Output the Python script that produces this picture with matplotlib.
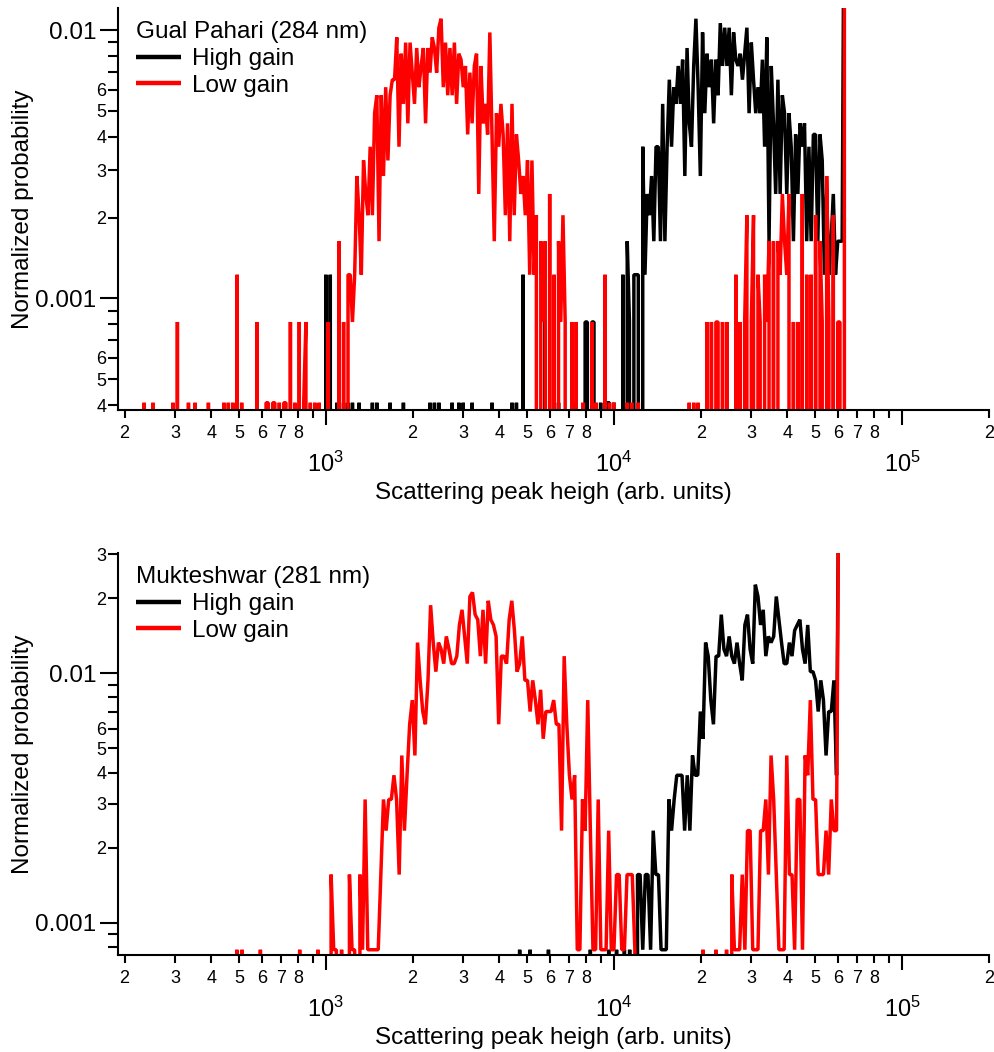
import numpy as np
import matplotlib
matplotlib.use("Agg")
import matplotlib.pyplot as plt
from matplotlib.ticker import LogLocator, FuncFormatter

plt.rcParams['font.family'] = ['Liberation Sans', 'DejaVu Sans']
plt.rcParams['mathtext.fontset'] = 'custom'
plt.rcParams['mathtext.rm'] = 'Liberation Sans'

# log-spaced histogram bins, first bin centre at 10**2.3
first_bin_log = 2.30
top_bins_per_decade = 130
bottom_bins_per_decade = 110

# counts -> normalized probability
top_total = 2450
bottom_total = 1282

# Gual Pahari (284 nm), counts per bin
top_high = [0] * 90 + [
    0, 3, 0, 3, 0, 0, 1, 0, 0, 1,
    0, 1, 0, 1, 0, 0, 1, 0, 0, 0,
    0, 0, 1, 0, 1, 0, 0, 0, 0, 0,
    1, 0, 0, 0, 0, 0, 1, 0, 0, 0,
    0, 0, 0, 0, 0, 0, 0, 0, 1, 0,
    1, 0, 1, 0, 0, 0, 0, 0, 1, 0,
    0, 1, 0, 1, 0, 0, 0, 1, 0, 0,
    0, 0, 0, 0, 0, 0, 1, 0, 0, 0,
    0, 0, 0, 0, 0, 1, 0, 1, 0, 0,
    3, 0, 0, 0, 0, 0, 0, 0, 0, 0,
    2, 0, 0, 0, 0, 0, 1, 0, 0, 0,
    0, 0, 0, 1, 0, 0, 0, 0, 2, 2,
    0, 2, 2, 0, 0, 1, 0, 0, 1, 1,
    0, 1, 0, 0, 0, 3, 0, 4, 2, 0,
    3, 3, 3, 0, 9, 3, 6, 5, 7, 4,
    9, 9, 4, 13, 4, 9, 16, 9, 15, 13,
    18, 13, 19, 7, 21, 11, 9, 18, 27, 15,
    7, 24, 12, 20, 15, 19, 11, 19, 14, 26,
    18, 25, 18, 25, 14, 24, 19, 18, 20, 16,
    20, 25, 12, 22, 16, 12, 15, 12, 19, 9,
    23, 4, 18, 11, 6, 16, 6, 14, 12, 6,
    12, 9, 4, 10, 6, 11, 9, 11, 4, 9,
    4, 10, 10, 4, 10, 8, 3, 6, 3, 4,
    6, 3, 4, 4, 4, 150]

top_low = [
    0, 0, 0, 0, 0, 0, 0, 0, 0, 1,
    0, 0, 0, 1, 0, 0, 0, 0, 0, 0,
    0, 0, 1, 0, 2, 0, 0, 0, 0, 1,
    0, 0, 1, 0, 0, 0, 0, 0, 1, 0,
    0, 0, 0, 0, 0, 1, 0, 1, 0, 1,
    0, 3, 0, 1, 0, 0, 0, 0, 0, 0,
    2, 0, 0, 0, 1, 1, 0, 1, 1, 0,
    1, 0, 1, 1, 0, 2, 0, 1, 0, 2,
    0, 1, 2, 0, 1, 0, 1, 0, 1, 0,
    0, 0, 2, 0, 0, 0, 0, 4, 0, 2,
    0, 3, 3, 2, 3, 7, 5, 3, 8, 6,
    5, 9, 5, 12, 14, 4, 14, 7, 15, 8,
    14, 16, 16, 23, 9, 20, 13, 22, 11, 22,
    17, 13, 21, 15, 18, 21, 11, 21, 17, 23,
    21, 17, 25, 27, 15, 22, 14, 21, 14, 22,
    13, 20, 19, 15, 18, 10, 17, 11, 18, 20,
    6, 18, 11, 13, 10, 24, 10, 4, 12, 9,
    13, 10, 5, 11, 4, 13, 5, 10, 8, 6,
    7, 5, 8, 3, 8, 3, 5, 0, 4, 2,
    4, 0, 6, 0, 3, 0, 4, 2, 5, 2,
    0, 0, 2, 0, 2, 0, 0, 1, 0, 0,
    0, 2, 0, 1, 0, 0, 0, 3, 0, 1,
    0, 1, 0, 0, 0, 0, 0, 1, 0, 1,
    0, 0, 1, 0, 0, 0, 0, 0, 0, 0,
    0, 0, 0, 0, 0, 0, 0, 0, 0, 0,
    0, 0, 0, 0, 0, 1, 0, 1, 0, 1,
    0, 0, 0, 2, 0, 2, 0, 2, 2, 0,
    2, 0, 2, 0, 0, 0, 3, 0, 2, 0,
    2, 5, 0, 2, 5, 0, 3, 2, 0, 3,
    2, 4, 0, 4, 0, 4, 3, 6, 4, 3,
    6, 0, 2, 0, 2, 0, 6, 0, 3, 0,
    3, 0, 5, 0, 4, 2, 0, 7, 2, 0,
    5, 0, 2, 2, 0, 150]

# Mukteshwar (281 nm), counts per bin
bottom_high = [0] * 150 + [
    0, 1, 0, 0, 0, 1, 0, 0, 0, 0,
    0, 0, 1, 0, 0, 0, 0, 0, 0, 0,
    0, 0, 0, 0, 0, 0, 0, 0, 1, 0,
    0, 0, 0, 0, 0, 1, 0, 0, 1, 0,
    0, 1, 0, 1, 0, 0, 2, 2, 1, 2,
    2, 1, 3, 2, 2, 1, 1, 1, 4, 3,
    4, 5, 5, 5, 3, 5, 3, 6, 5, 5,
    9, 7, 17, 15, 10, 8, 15, 15, 22, 16,
    15, 18, 15, 14, 17, 14, 12, 20, 22, 16,
    14, 29, 26, 20, 23, 15, 18, 17, 18, 26,
    21, 17, 14, 14, 17, 15, 19, 20, 21, 16,
    14, 20, 13, 13, 12, 9, 12, 10, 6, 9,
    9, 12, 5, 150]

bottom_low = [0] * 40 + [
    0, 0, 0, 1, 0, 1, 0, 0, 0, 0,
    0, 0, 1, 0, 0, 0, 0, 0, 0, 0,
    0, 0, 0, 0, 0, 0, 0, 1, 0, 0,
    0, 0, 0, 0, 1, 0, 0, 0, 0, 2,
    1, 1, 0, 1, 0, 0, 2, 1, 1, 0,
    2, 1, 4, 1, 1, 1, 1, 1, 2, 4,
    3, 4, 4, 5, 4, 2, 6, 3, 5, 8,
    10, 6, 17, 12, 9, 8, 12, 24, 17, 13,
    17, 16, 14, 18, 16, 14, 14, 15, 20, 23,
    18, 14, 26, 27, 22, 21, 15, 23, 14, 25,
    21, 20, 18, 8, 15, 15, 14, 21, 25, 19,
    13, 14, 18, 12, 12, 9, 12, 10, 8, 11,
    7, 9, 9, 9, 10, 8, 8, 3, 15, 8,
    5, 4, 5, 1, 1, 4, 3, 10, 3, 1,
    1, 4, 1, 1, 1, 3, 1, 1, 2, 2,
    1, 1, 2, 2, 2, 1, 0, 0, 0, 0,
    0, 0, 0, 0, 0, 0, 0, 0, 0, 0,
    0, 0, 0, 0, 0, 0, 0, 0, 0, 0,
    0, 1, 0, 0, 0, 0, 1, 0, 0, 0,
    1, 0, 2, 1, 1, 1, 2, 1, 3, 3,
    1, 1, 1, 3, 3, 4, 2, 6, 4, 2,
    1, 1, 1, 6, 2, 2, 1, 4, 4, 1,
    6, 5, 10, 4, 4, 2, 2, 2, 3, 2,
    4, 3, 3, 150]

sites = ['Gual Pahari (284 nm)', 'Mukteshwar (281 nm)']


def bin_centres(n, per_decade):
    return 10 ** (first_bin_log + np.arange(n) / per_decade)


def minor_digit(v):
    return int(round(v / 10 ** np.floor(np.log10(v) + 1e-9)))


def draw_panel(ax, site, high, low, total, per_decade, ylim, y_digits):
    style = dict(lw=2.5, solid_joinstyle='bevel', solid_capstyle='butt')
    ax.plot(bin_centres(len(high), per_decade), np.array(high) / total,
            color='black', label='High gain', **style)
    ax.plot(bin_centres(len(low), per_decade), np.array(low) / total,
            color='red', label='Low gain', **style)
    ax.set_xscale('log')
    ax.set_yscale('log')
    ax.set_xlim(190.3, 2.005e5)
    ax.set_ylim(*ylim)

    for s in ['top', 'right']:
        ax.spines[s].set_visible(False)
    for s in ['left', 'bottom']:
        ax.spines[s].set_linewidth(1.5)

    ax.yaxis.set_major_locator(LogLocator(base=10, numticks=10))
    ax.yaxis.set_minor_locator(LogLocator(base=10, subs=np.arange(2, 10), numticks=10))
    ax.yaxis.set_major_formatter(FuncFormatter(lambda v, p: f'{v:g}'))
    ax.yaxis.set_minor_formatter(FuncFormatter(
        lambda v, p: str(minor_digit(v)) if minor_digit(v) in y_digits else ''))

    ax.xaxis.set_major_locator(LogLocator(base=10, numticks=10))
    ax.xaxis.set_minor_locator(LogLocator(base=10, subs=np.arange(2, 10), numticks=10))
    ax.xaxis.set_major_formatter(FuncFormatter(
        lambda v, p: r'$\mathregular{10^{%d}}$' % round(np.log10(v))))
    ax.xaxis.set_minor_formatter(FuncFormatter(
        lambda v, p: str(minor_digit(v)) if minor_digit(v) <= 8 else ''))

    ax.tick_params(axis='y', which='major', length=13, width=1.5, labelsize=17.5, pad=3)
    ax.tick_params(axis='y', which='minor', length=7, width=1.5, labelsize=13, pad=1.5)
    ax.tick_params(axis='x', which='major', length=11, width=1.5, labelsize=17, pad=19)
    ax.tick_params(axis='x', which='minor', length=5.8, width=1.5, labelsize=13, pad=5)

    ax.set_ylabel('Normalized probability', fontsize=17.5, labelpad=1)
    ax.set_xlabel('Scattering peak heigh (arb. units)', fontsize=17.5, labelpad=4)

    leg = ax.legend(title=site, loc='upper left', bbox_to_anchor=(0.02, 0.968),
                    frameon=False, fontsize=17.5, title_fontsize=17.5,
                    alignment='left', handlelength=1.85, handletextpad=0.45,
                    labelspacing=0.2, borderpad=0, borderaxespad=0)
    for line in leg.get_lines():
        line.set_linewidth(3.2)


fig = plt.figure(figsize=(9.94, 10.52), dpi=100)
ax1 = fig.add_axes([0.1190, 0.6107, 0.8760, 0.3814])
ax2 = fig.add_axes([0.1190, 0.0922, 0.8760, 0.3818])

draw_panel(ax1, sites[0], top_high, top_low, top_total, top_bins_per_decade,
           (3.85e-4, 0.01205), (2, 3, 4, 5, 6))
draw_panel(ax2, sites[1], bottom_high, bottom_low, bottom_total, bottom_bins_per_decade,
           (7.43e-4, 0.0302), (2, 3, 4, 5, 6))

fig.savefig('out.png', dpi=100)
